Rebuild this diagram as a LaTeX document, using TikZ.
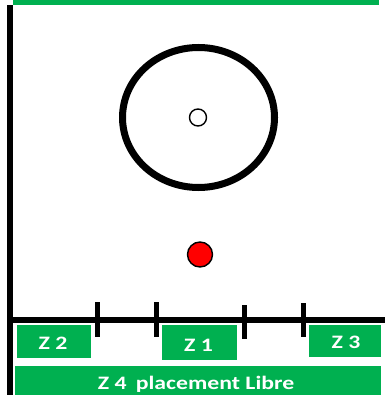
\documentclass[tikz,border=0pt]{standalone}
\usepackage{fontspec}
\setmainfont{Carlito}
\definecolor{zgreen}{HTML}{00B050}
\newcommand{\ztxt}[1]{\scalebox{1.25}[1]{\bfseries\fontsize{19}{19}\selectfont #1}}
\begin{document}
\begin{tikzpicture}[x=1pt,y=-1pt,
  zone/.style={fill=zgreen,draw=none,inner sep=0pt},
  zlabel/.style={text=white,inner sep=0pt,anchor=base},
  tick/.style={line width=5pt},
  rail/.style={line width=6pt}]
\useasboundingbox (0,0) rectangle (385,395);
% top green bar
\fill[zgreen] (13,0) rectangle (379,5);
% left wall
\coordinate (wt) at (10,5);
\coordinate (wb) at (10,395);
\draw[rail] (wt) -- (wb);
% bottom rail
\coordinate (rl) at (13,320);
\coordinate (rr) at (385,320);
\draw[rail] (rl) -- (rr);
% ticks
\foreach \x/\a/\b in {97/302/337,156/302/337,244/305/339,303/303/337}{
  \draw[tick] (\x,\a) -- (\x,\b);
}
% zones
\node[zone,minimum width=74pt,minimum height=33pt] (z2) at (54,341) {};
\node[zone,minimum width=75pt,minimum height=35pt] (z1) at (199.5,342.5) {};
\node[zone,minimum width=72pt,minimum height=32pt] (z3) at (345,341) {};
\node[zone,minimum width=366pt,minimum height=29pt] (z4) at (198,380.5) {};
\node[zlabel] (t2) at (53,349) {\ztxt{Z 2}};
\node[zlabel] (t1) at (198.5,351) {\ztxt{Z 1}};
\node[zlabel] (t3) at (346,348) {\ztxt{Z 3}};
\node[zlabel] (t4) at (196,389.5) {\ztxt{Z 4\,\ placement Libre}};
% big ellipse
\draw[line width=7pt] (198.5,117.5) ellipse [x radius=76, y radius=70];
% small circle
\node[circle,draw,line width=1.4pt,inner sep=0pt,minimum size=17pt,fill=white] (c) at (198,117.5) {};
% red dot
\node[circle,draw,line width=1.4pt,inner sep=0pt,minimum size=25pt,fill=red] (r) at (200,254.5) {};
\end{tikzpicture}
\end{document}
